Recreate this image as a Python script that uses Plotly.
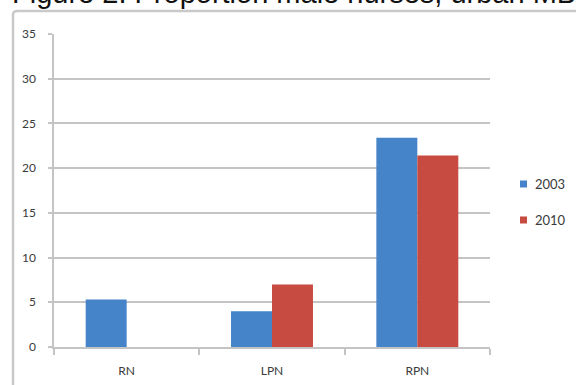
import plotly.graph_objects as go

# Proportion (%) of male nurses by designation
categories = ["RN", "LPN", "RPN"]
values_2003 = [5.3, 4.0, 23.4]
values_2010 = [None, 7.0, 21.4]
series_names = ["2003", "2010"]
y_ticks = [0, 5, 10, 15, 20, 25, 30, 35]

title_text = "Figure 2: Proportion male nurses, urban MB"

BLUE = "#4584c9"
RED = "#c84b42"
COLORS = [BLUE, RED]
GRID = "#c4c4c4"
TEXT = "#3a3a3a"
FONT = "Lato, 'Open Sans', sans-serif"

fig = go.Figure()
for name, vals, col in zip(series_names, [values_2003, values_2010], COLORS):
    fig.add_trace(go.Bar(x=categories, y=vals, name=name,
                         marker=dict(color=col, line=dict(width=0)),
                         showlegend=False))

# outer chart frame (runs past the right and bottom edges of the page)
fig.add_shape(type="path", xref="paper", yref="paper",
              path="M -0.094,-0.3 L -0.094,1.062 Q -0.094,1.0735 -0.083,1.0735 L 1.3,1.0735",
              line=dict(color="#c9c9c9", width=2.5), layer="below")

fig.add_annotation(text=title_text, xref="paper", yref="paper",
                   x=-0.101, y=1.072, xanchor="left", yanchor="bottom",
                   showarrow=False, font=dict(family="Liberation Sans, Arial", size=29, color="#111111"))

# compact legend: small square key followed by the series name
legend_y = [0.5208, 0.4058]
for name, col, yc in zip(series_names, COLORS, legend_y):
    fig.add_shape(type="rect", xref="paper", yref="paper",
                  x0=1.0688, x1=1.0849, y0=yc - 0.0112, y1=yc + 0.0112,
                  fillcolor=col, line=dict(width=0))
    fig.add_annotation(text=name, xref="paper", yref="paper",
                       x=1.0986, y=yc, xanchor="left", yanchor="middle",
                       showarrow=False, font=dict(family=FONT, size=13, color=TEXT))

fig.update_layout(
    width=576, height=385,
    margin=dict(l=54, r=86, t=34, b=38, autoexpand=False),
    paper_bgcolor="white", plot_bgcolor="white",
    barmode="group", bargap=0.436, bargroupgap=0,
    font=dict(family=FONT, size=12, color=TEXT),
    showlegend=False,
    xaxis=dict(type="category", showgrid=False, showline=True,
               linecolor=GRID, linewidth=1.5, ticks="outside", tickson="boundaries",
               ticklen=6, tickcolor=GRID, tickwidth=1.5,
               tickfont=dict(family=FONT, size=12, color=TEXT),
               ticklabelstandoff=12),
    yaxis=dict(range=[0, 35], tickvals=y_ticks, showgrid=True, gridcolor=GRID,
               gridwidth=1.5, zeroline=False, showline=True, linecolor=GRID,
               linewidth=1.5, ticks="outside", ticklen=4, tickcolor=GRID, tickwidth=1.5,
               tickfont=dict(family=FONT, size=12, color=TEXT),
               ticklabelstandoff=10),
)

fig.write_html("out.html")
